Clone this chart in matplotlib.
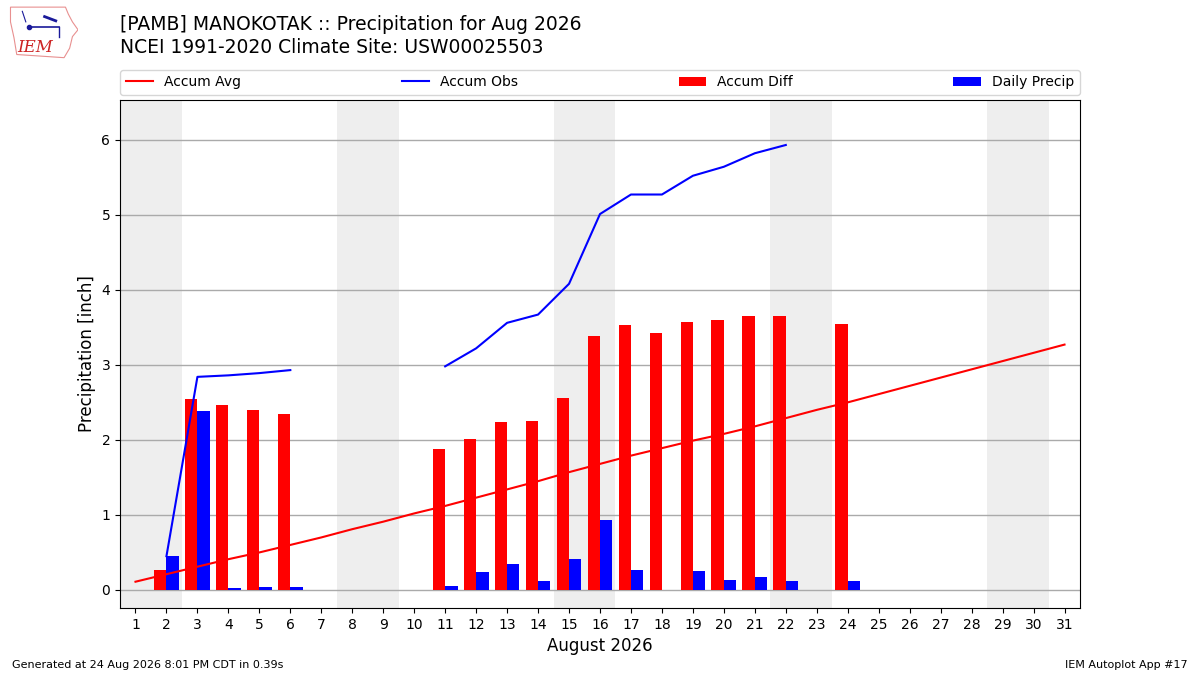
import numpy as np
import matplotlib
matplotlib.use("Agg")
import matplotlib.pyplot as plt
from matplotlib.patches import Polygon

days = list(range(1, 32))
accum_avg = [0.11, 0.21, 0.31, 0.41, 0.50, 0.60, 0.70, 0.81, 0.91, 1.02, 1.12,
             1.23, 1.34, 1.45, 1.57, 1.68, 1.79, 1.89, 1.99, 2.08, 2.18, 2.29,
             2.40, 2.50, 2.61, 2.72, 2.83, 2.94, 3.05, 3.16, 3.27]
nan = np.nan
accum_obs = [nan, 0.45, 2.84, 2.86, 2.89, 2.93, nan, nan, nan, nan, 2.98, 3.22,
             3.56, 3.67, 4.08, 5.01, 5.27, 5.27, 5.52, 5.64, 5.82, 5.93,
             nan, nan, nan, nan, nan, nan, nan, nan, nan]
bar_days = [2, 3, 4, 5, 6, 11, 12, 13, 14, 15, 16, 17, 18, 19, 20, 21, 22, 24]
accum_diff = [0.27, 2.55, 2.47, 2.40, 2.35, 1.88, 2.01, 2.24, 2.25, 2.56, 3.39,
              3.53, 3.43, 3.57, 3.60, 3.65, 3.65, 3.55]
daily_precip = [0.45, 2.39, 0.03, 0.04, 0.04, 0.05, 0.24, 0.35, 0.12, 0.41, 0.93,
                0.27, 0.0, 0.25, 0.13, 0.17, 0.12, 0.12]
weekend_starts = [1, 8, 15, 22, 29]

fig = plt.figure(figsize=(12, 6.75), dpi=100)
ax = fig.add_axes([0.1, 0.0993, 0.8, 0.7526])

for d in weekend_starts:
    ax.axvspan(d - 0.5, d + 1.5, color="#EEEEEE", zorder=0, lw=0)

ax.plot(days, accum_avg, color="red", lw=1.5, label="Accum Avg", zorder=3)
ax.plot(days, accum_obs, color="blue", lw=1.5, label="Accum Obs", zorder=3)
ax.bar(np.array(bar_days) - 0.4, accum_diff, width=0.4, align="edge",
       color="red", label="Accum Diff", zorder=2)
ax.bar(np.array(bar_days), daily_precip, width=0.4, align="edge",
       color="blue", label="Daily Precip", zorder=2)

ax.set_xlim(0.5, 31.5)
ax.set_ylim(-0.24, 6.53)
ax.set_xticks(days)
ax.set_yticks(range(0, 7))
ax.tick_params(labelsize=10)
ax.yaxis.grid(True, color="#AAAAAA", lw=1, zorder=1)
ax.set_axisbelow(True)
ax.set_xlabel("August 2026", fontsize=12)
ax.set_ylabel("Precipitation [inch]", fontsize=12)

ax.legend(loc="lower left", bbox_to_anchor=(0, 1.01, 1, 0.05), mode="expand",
          ncol=4, fontsize=10, borderaxespad=0, frameon=True)

fig.text(0.1, 0.978, "[PAMB] MANOKOTAK :: Precipitation for Aug 2026\nNCEI 1991-2020 Climate Site: USW00025503",
         fontsize=13.5, va="top", ha="left", linespacing=1.25)

fig.text(0.01, 0.008, "Generated at 24 Aug 2026 8:01 PM CDT in 0.39s", fontsize=8, ha="left", va="bottom")
fig.text(0.99, 0.008, "IEM Autoplot App #17", fontsize=8, ha="right", va="bottom")

# logo approximation
lax = fig.add_axes([0.007, 0.913, 0.058, 0.078])
lax.set_xlim(0, 1)
lax.set_ylim(0, 1)
lax.axis("off")
outline = [(0.03, 0.98), (0.82, 0.98), (0.86, 0.85), (0.92, 0.7), (1.0, 0.55),
           (0.92, 0.42), (0.88, 0.2), (0.8, 0.02), (0.12, 0.08), (0.08, 0.4), (0.03, 0.7)]
lax.add_patch(Polygon(outline, closed=True, fill=False, edgecolor="#E89090", lw=0.8))
lax.text(0.38, 0.22, "IEM", color="#CC2222", fontsize=12, family="DejaVu Serif",
         style="italic", ha="center", va="center")
lax.plot([0.3, 0.72], [0.6, 0.6], color="#1a1a9a", lw=1.2)
lax.plot([0.3], [0.6], "o", color="#1a1a9a", ms=3)
lax.plot([0.72, 0.72], [0.6, 0.42], color="#1a1a9a", lw=1)
lax.plot([0.52, 0.68], [0.8, 0.72], color="#1a1a9a", lw=2)
lax.plot([0.2, 0.25], [0.9, 0.7], color="#1a1a9a", lw=0.8)

fig.savefig("out.png", dpi=100)
